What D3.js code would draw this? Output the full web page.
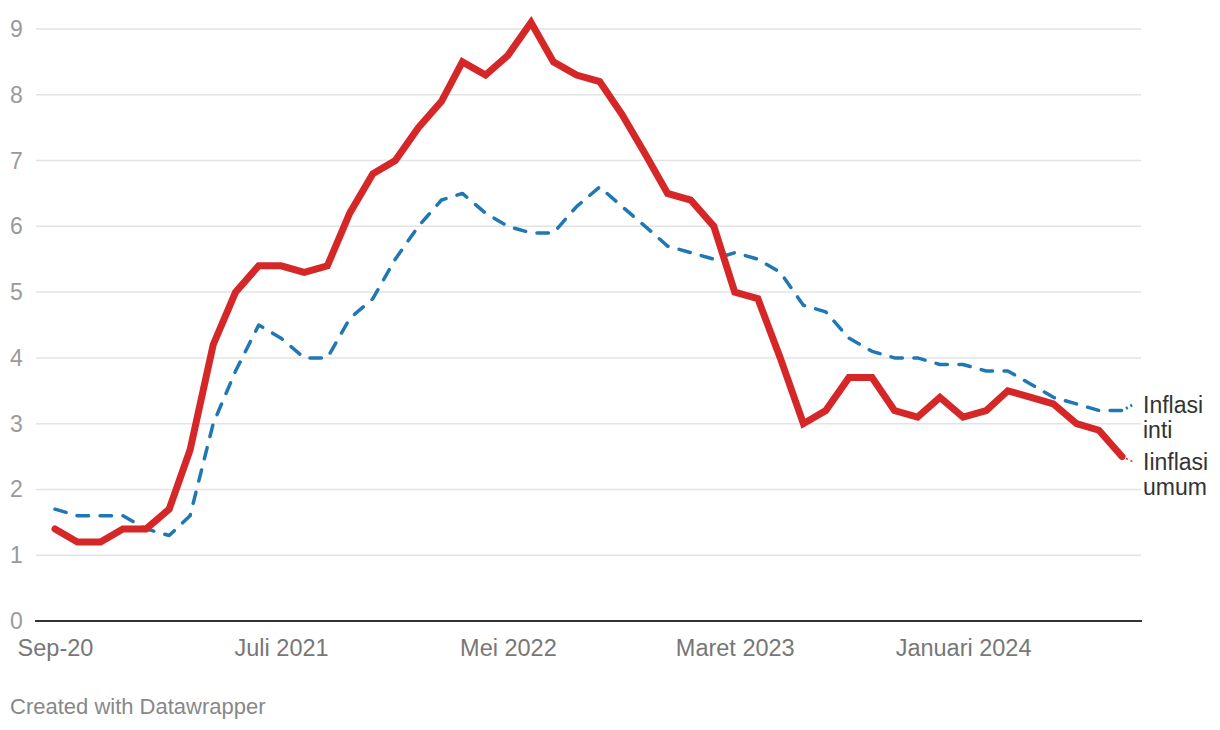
<!DOCTYPE html>
<html>
<head>
<meta charset="utf-8">
<script src="https://cdn.jsdelivr.net/npm/d3@7"></script>
<style>
  html, body { margin: 0; padding: 0; background: #fff; }
  svg text { font-family: "Liberation Sans", Arial, Helvetica, sans-serif; }
</style>
</head>
<body>
<svg id="chart" width="1220" height="730"></svg>
<script>
// ---- Data ----
const startMonth = "2020-09";   // first month of the series (monthly data)
const inflasiUmum = [1.4,1.2,1.2,1.4,1.4,1.7,2.6,4.2,5.0,5.4,5.4,5.3,5.4,6.2,6.8,7.0,7.5,7.9,8.5,8.3,8.6,9.1,8.5,8.3,8.2,7.7,7.1,6.5,6.4,6.0,5.0,4.9,4.0,3.0,3.2,3.7,3.7,3.2,3.1,3.4,3.1,3.2,3.5,3.4,3.3,3.0,2.9,2.5];
const inflasiInti = [1.7,1.6,1.6,1.6,1.4,1.3,1.6,3.0,3.8,4.5,4.3,4.0,4.0,4.6,4.9,5.5,6.0,6.4,6.5,6.2,6.0,5.9,5.9,6.3,6.6,6.3,6.0,5.7,5.6,5.5,5.6,5.5,5.3,4.8,4.7,4.3,4.1,4.0,4.0,3.9,3.9,3.8,3.8,3.6,3.4,3.3,3.2,3.2];
const xTickMonths = ["2020-09","2021-07","2022-05","2023-03","2024-01"];
const xTickLabels = ["Sep-20","Juli 2021","Mei 2022","Maret 2023","Januari 2024"];
const yTicks = [0,1,2,3,4,5,6,7,8,9];
const seriesLabels = [["Inflasi","inti"],["Iinflasi","umum"]];

// ---- Build dates ----
const parseMonth = d3.timeParse("%Y-%m");
const start = parseMonth(startMonth);
const dates = inflasiUmum.map((_, i) => d3.timeMonth.offset(start, i));

const svg = d3.select("#chart");
const x = d3.scaleTime().domain([dates[0], dates[dates.length - 1]]).range([55, 1122]);
const y = d3.scaleLinear().domain([0, 9]).range([621, 29]);

// Gridlines
const grid = svg.append("g");
grid.selectAll("line").data(yTicks.filter(t => t !== 0)).join("line")
  .attr("x1", 36).attr("x2", 1141)
  .attr("y1", d => y(d)).attr("y2", d => y(d))
  .attr("stroke", "#e3e3e3").attr("stroke-width", 1.5);

// Y labels
svg.append("g").selectAll("text").data(yTicks).join("text")
  .attr("x", 10).attr("y", d => y(d))
  .attr("dy", "0.35em")
  .attr("font-size", 23).attr("fill", "#9a9a9a")
  .text(d => d);

// Baseline
svg.append("line")
  .attr("x1", 35).attr("x2", 1142)
  .attr("y1", y(0)).attr("y2", y(0))
  .attr("stroke", "#333").attr("stroke-width", 2);

// X axis labels
const xAxis = d3.axisBottom(x)
  .tickValues(xTickMonths.map(parseMonth))
  .tickFormat((d, i) => xTickLabels[i])
  .tickSize(0).tickPadding(0);
const gx = svg.append("g").attr("transform", `translate(0,${y(0)})`).call(xAxis);
gx.select(".domain").remove();
gx.selectAll("text")
  .attr("y", 35).attr("dy", 0)
  .attr("font-size", 23.5).attr("fill", "#777")
  .attr("font-family", "Liberation Sans, Arial, sans-serif");

// Lines
const line = d3.line().x((d, i) => x(dates[i])).y(d => y(d));

svg.append("path").datum(inflasiInti)
  .attr("d", line).attr("fill", "none")
  .attr("stroke", "#1f77b4").attr("stroke-width", 3.5)
  .attr("stroke-dasharray", "11.5 11.5").attr("stroke-linecap", "round")
  .attr("stroke-linejoin", "round");

svg.append("path").datum(inflasiUmum)
  .attr("d", line).attr("fill", "none")
  .attr("stroke", "#d62728").attr("stroke-width", 7)
  .attr("stroke-linecap", "round").attr("stroke-linejoin", "miter");

// Label connectors + labels
const lastI = inflasiUmum.length - 1;
const lx = x(dates[lastI]);
const conn = [
  {v: inflasiInti[lastI], ly: 404, color: "#1f77b4", w: 3, lines: seriesLabels[0], ty: 405},
  {v: inflasiUmum[lastI], ly: 462, color: "#d62728", w: 1.5, lines: seriesLabels[1], ty: 462}
];
conn.forEach(c => {
  svg.append("line")
    .attr("x1", lx + 4).attr("y1", y(c.v) - (c.ly < y(c.v) ? 2 : -2))
    .attr("x2", 1134).attr("y2", c.ly)
    .attr("stroke", c.color).attr("stroke-width", c.w)
    .attr("stroke-dasharray", "2 3");
  const t = svg.append("text").attr("x", 1143).attr("y", c.ty)
    .attr("font-size", 23).attr("fill", "#333");
  c.lines.forEach((s, k) => {
    t.append("tspan").attr("x", 1143).attr("dy", k === 0 ? "0.35em" : 25).text(s);
  });
});

// Footer
svg.append("text").attr("x", 10).attr("y", 714)
  .attr("font-size", 22).attr("fill", "#888")
  .text("Created with Datawrapper");
</script>
</body>
</html>
